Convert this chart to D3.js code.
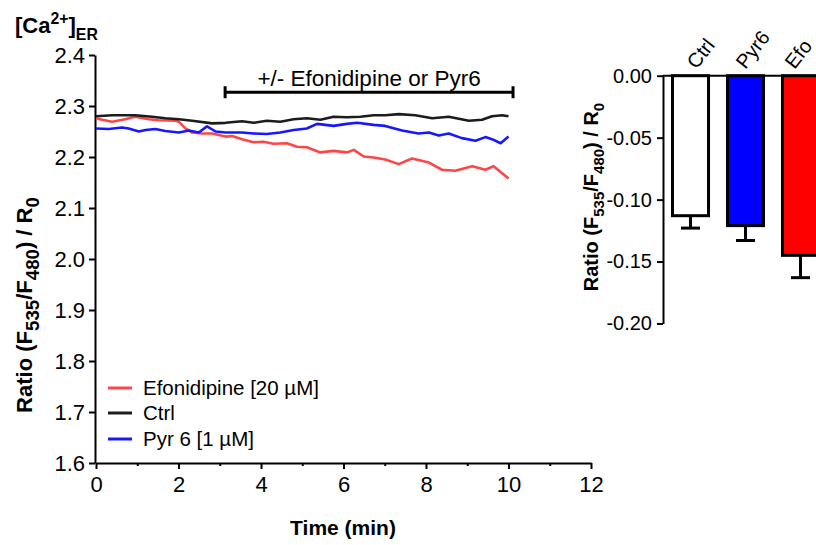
<!DOCTYPE html>
<html lang="en">
<head>
  <meta charset="UTF-8" />
  <title>ER Ca2+ ratio</title>
  <style>
    body {
      margin: 0;
      padding: 0;
      background: #fff;
    }
    svg {
      display: block;
      font-family: "Liberation Sans", Arial, sans-serif;
    }
    .axis path, .axis line {
      stroke: #000;
      stroke-width: 2px;
    }
    .axis text {
      fill: #000;
    }
  </style>
</head>
<body>
  <svg id="chart"></svg>

  <script src="https://d3js.org/d3.v7.min.js"></script>
  <script>
    // traces (time in min, ratio F535/F480 / R0)
    const ctrlTime = [0, 0.39, 0.95, 1.36, 1.68, 2.01, 2.33, 2.82, 3.14, 3.54, 3.82, 4.14, 4.47, 4.79, 5.11, 5.44, 5.76, 6.08, 6.41, 6.73, 7.01, 7.34, 7.74, 8.15, 8.55, 9.04, 9.36, 9.6, 9.85, 10.0];
    const ctrlRatio = [2.280, 2.282, 2.282, 2.279, 2.276, 2.274, 2.271, 2.266, 2.267, 2.270, 2.267, 2.271, 2.269, 2.274, 2.276, 2.273, 2.279, 2.278, 2.279, 2.282, 2.282, 2.284, 2.282, 2.276, 2.279, 2.271, 2.273, 2.280, 2.282, 2.280];

    const efoTime = [0, 0.15, 0.39, 0.71, 0.95, 1.28, 1.52, 1.93, 2.01, 2.17, 2.33, 2.57, 2.82, 3.14, 3.30, 3.54, 3.82, 4.06, 4.30, 4.63, 4.87, 5.11, 5.44, 5.76, 6.08, 6.25, 6.49, 6.73, 7.01, 7.34, 7.66, 8.07, 8.39, 8.71, 9.12, 9.44, 9.64, 10.0];
    const efoRatio = [2.276, 2.273, 2.269, 2.274, 2.279, 2.274, 2.272, 2.271, 2.269, 2.256, 2.248, 2.246, 2.246, 2.240, 2.241, 2.235, 2.229, 2.230, 2.226, 2.227, 2.220, 2.219, 2.209, 2.212, 2.209, 2.214, 2.201, 2.199, 2.195, 2.186, 2.197, 2.189, 2.175, 2.173, 2.182, 2.175, 2.182, 2.158];

    const pyrTime = [0, 0.31, 0.63, 0.79, 1.04, 1.2, 1.44, 1.68, 2.01, 2.25, 2.49, 2.69, 2.90, 3.14, 3.54, 3.82, 4.14, 4.47, 4.79, 5.11, 5.36, 5.76, 6.08, 6.33, 6.73, 7.01, 7.42, 7.82, 8.07, 8.31, 8.55, 8.87, 9.20, 9.44, 9.60, 9.81, 10.0];
    const pyrRatio = [2.256, 2.255, 2.258, 2.256, 2.250, 2.253, 2.255, 2.251, 2.248, 2.252, 2.248, 2.260, 2.250, 2.248, 2.248, 2.246, 2.245, 2.248, 2.253, 2.256, 2.265, 2.261, 2.265, 2.267, 2.263, 2.261, 2.252, 2.246, 2.248, 2.242, 2.246, 2.237, 2.232, 2.239, 2.235, 2.227, 2.240];

    const xTicks = [0, 2, 4, 6, 8, 10, 12];
    const xMinor = [1, 3, 5, 7, 9, 11];
    const yTicks = [1.6, 1.7, 1.8, 1.9, 2.0, 2.1, 2.2, 2.3, 2.4];

    // treatment bracket
    const treatStart = 3.13;
    const treatEnd = 10.11;
    const treatLevel = 2.327;

    // bar summary
    const barCats = ["Ctrl", "Pyr6", "Efo"];
    const barMeans = [-0.113, -0.121, -0.145];
    const barSem = [0.010, 0.012, 0.018];
    const barFill = ["#ffffff", "#0000ff", "#ff0000"];
    const barTicks = [0, -0.05, -0.10, -0.15, -0.20];

    const series = [
      { name: "Efonidipine [20 \u00b5M]", color: "#ff4545", t: efoTime, v: efoRatio },
      { name: "Ctrl", color: "#1c1c1c", t: ctrlTime, v: ctrlRatio },
      { name: "Pyr 6 [1 \u00b5M]", color: "#1717ff", t: pyrTime, v: pyrRatio }
    ];

    const width = 816, height = 545;
    const svg = d3.select("#chart").attr("width", width).attr("height", height);

    // rich text with sub / superscripts
    function richText(g, parts, size, bold, ratio = 0.72) {
      const txt = g.append("text")
        .attr("font-size", size)
        .attr("font-weight", bold ? "bold" : "normal");
      let shift = 0;
      parts.forEach(p => {
        let target = 0, fs = size;
        if (p.sub) { target = size * 0.3; fs = size * ratio; }
        if (p.sup) { target = -size * 0.4; fs = size * ratio; }
        txt.append("tspan")
          .attr("dy", target - shift)
          .attr("font-size", fs)
          .text(p.t);
        shift = target;
      });
      return txt;
    }

    // ---------- line chart ----------
    const x = d3.scaleLinear().domain([0, 12]).range([96, 591]);
    const y = d3.scaleLinear().domain([1.6, 2.4]).range([463, 55]);

    svg.append("g")
      .attr("class", "axis")
      .attr("transform", `translate(0, ${y(1.6)})`)
      .call(d3.axisBottom(x).tickValues(xTicks).tickSize(6).tickSizeOuter(0).tickPadding(7).tickFormat(d3.format("d")))
      .call(g => g.selectAll("text").attr("font-size", 22).attr("font-family", null));

    svg.append("g")
      .attr("class", "axis")
      .attr("transform", `translate(0, ${y(1.6)})`)
      .call(d3.axisBottom(x).tickValues(xMinor).tickSize(3).tickFormat(""))
      .call(g => g.select(".domain").remove());

    svg.append("g")
      .attr("class", "axis")
      .attr("transform", `translate(${x(0) - 1}, 0)`)
      .call(d3.axisLeft(y).tickValues(yTicks).tickSize(6).tickSizeOuter(0).tickPadding(4).tickFormat(d3.format(".1f")))
      .call(g => g.selectAll("text").attr("font-size", 22).attr("font-family", null));

    const line = d3.line()
      .x(d => x(d[0]))
      .y(d => y(d[1]));

    series.forEach(s => {
      svg.append("path")
        .datum(s.t.map((t, i) => [t, s.v[i]]))
        .attr("fill", "none")
        .attr("stroke", s.color)
        .attr("stroke-width", 2.6)
        .attr("stroke-linejoin", "round")
        .attr("d", line);
    });

    // bracket
    const br = svg.append("g").attr("stroke", "#000").attr("stroke-width", 3);
    br.append("line")
      .attr("x1", x(treatStart)).attr("x2", x(treatEnd))
      .attr("y1", y(treatLevel)).attr("y2", y(treatLevel));
    [treatStart, treatEnd].forEach(t => {
      br.append("line")
        .attr("x1", x(t)).attr("x2", x(t))
        .attr("y1", y(treatLevel) - 6).attr("y2", y(treatLevel) + 6);
    });
    svg.append("text")
      .attr("x", (x(treatStart) + x(treatEnd)) / 2)
      .attr("y", y(treatLevel) - 6)
      .attr("text-anchor", "middle")
      .attr("font-size", 22.5)
      .text("+/- Efonidipine or Pyr6");

    // legend
    const legY = [388, 413, 439];
    series.forEach((s, i) => {
      svg.append("line")
        .attr("x1", 108).attr("x2", 132)
        .attr("y1", legY[i]).attr("y2", legY[i])
        .attr("stroke", s.color).attr("stroke-width", 3);
      svg.append("text")
        .attr("x", 143).attr("y", legY[i] + 7)
        .attr("font-size", 20.5)
        .text(s.name);
    });

    // titles
    richText(svg.append("g").attr("transform", "translate(15, 33)"),
      [{ t: "[Ca" }, { t: "2+", sup: true }, { t: "]" }, { t: "ER", sub: true }], 22, true);

    richText(svg.append("g").attr("transform", "translate(32, 305) rotate(-90)"),
      [{ t: "Ratio (F" }, { t: "535", sub: true }, { t: "/F" }, { t: "480", sub: true }, { t: ") / R" }, { t: "0", sub: true }], 22, true, 0.85)
      .attr("text-anchor", "middle");

    svg.append("text")
      .attr("x", 343).attr("y", 535)
      .attr("text-anchor", "middle")
      .attr("font-size", 21)
      .attr("font-weight", "bold")
      .text("Time (min)");

    // ---------- bar chart ----------
    const xb = d3.scaleBand().domain(barCats).range([663, 828]).paddingInner(0.345).paddingOuter(0.1725);
    const yb = d3.scaleLinear().domain([-0.2, 0]).range([323.5, 75.7]);

    svg.append("g")
      .attr("class", "axis")
      .attr("transform", `translate(${xb.range()[0]}, 0)`)
      .call(d3.axisLeft(yb).tickValues(barTicks).tickSize(6).tickSizeOuter(0).tickPadding(5).tickFormat(d => d.toFixed(2)))
      .call(g => g.selectAll("text").attr("font-size", 20).attr("font-family", null));

    barCats.forEach((c, i) => {
      const cx = xb(c) + xb.bandwidth() / 2;
      svg.append("line")
        .attr("x1", cx).attr("x2", cx)
        .attr("y1", yb(barMeans[i])).attr("y2", yb(barMeans[i] - barSem[i]))
        .attr("stroke", "#000").attr("stroke-width", 3);
      svg.append("line")
        .attr("x1", cx - 9.5).attr("x2", cx + 9.5)
        .attr("y1", yb(barMeans[i] - barSem[i])).attr("y2", yb(barMeans[i] - barSem[i]))
        .attr("stroke", "#000").attr("stroke-width", 3);
      svg.append("rect")
        .attr("x", xb(c)).attr("width", xb.bandwidth())
        .attr("y", yb(0)).attr("height", yb(barMeans[i]) - yb(0))
        .attr("fill", barFill[i])
        .attr("stroke", "#000").attr("stroke-width", 3);
      svg.append("text")
        .attr("transform", `translate(${cx + 6 - 6 * i}, 70) rotate(-52)`)
        .attr("font-size", 20)
        .text(c);
    });

    svg.append("line")
      .attr("x1", xb.range()[0]).attr("x2", width)
      .attr("y1", yb(0)).attr("y2", yb(0))
      .attr("stroke", "#000").attr("stroke-width", 2);

    richText(svg.append("g").attr("transform", "translate(598, 197) rotate(-90)"),
      [{ t: "Ratio (F" }, { t: "535", sub: true }, { t: "/F" }, { t: "480", sub: true }, { t: ") / R" }, { t: "0", sub: true }], 20, true, 0.75)
      .attr("text-anchor", "middle");
  </script>
</body>
</html>
